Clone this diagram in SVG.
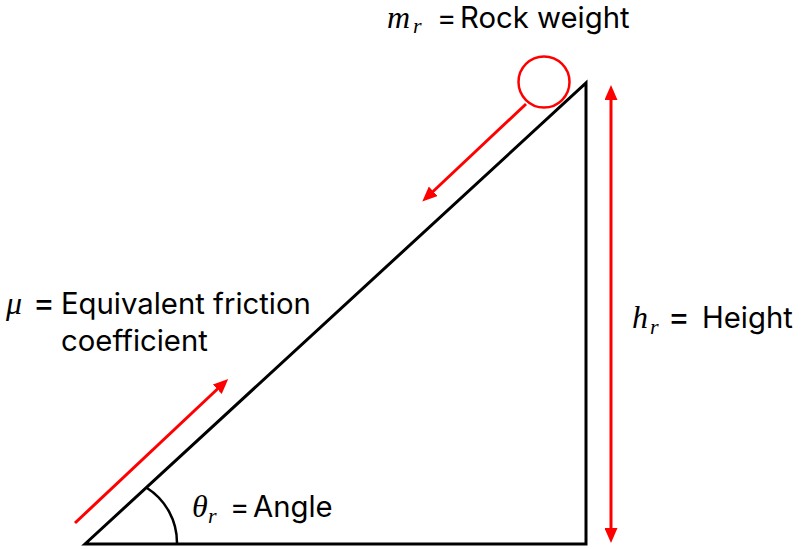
<svg xmlns="http://www.w3.org/2000/svg" width="802" height="549" viewBox="0 0 802 549">
  <style>
    .lbl { font-family: Inter, Roboto, "Liberation Sans", sans-serif; font-size: 29.3px; fill: #000; }
    .math { font-family: "Liberation Serif", "DejaVu Serif", serif; font-style: italic; font-size: 32px; }
    .sub { font-family: "Liberation Serif", "DejaVu Serif", serif; font-style: italic; font-size: 22px; }
    .eq { font-size: 33px; }
    .red { stroke: #FF0000; stroke-width: 3; fill: none; }
  </style>
  <defs>
    <marker id="ah" markerUnits="userSpaceOnUse" markerWidth="16" markerHeight="13" refX="1" refY="6.5" orient="auto-start-reverse">
      <path d="M0,0 L15,6.5 L0,13 z" fill="#FF0000"/>
    </marker>
  </defs>
  <rect width="802" height="549" fill="#fff"/>

  <g id="slope">
    <polygon points="85,544 586,83 586,544" fill="none" stroke="#000" stroke-width="3" stroke-linejoin="miter"/>
    <path d="M147,488 A65,65 0 0 1 177,543" fill="none" stroke="#000" stroke-width="2.5"/>
  </g>

  <g id="rock">
    <circle cx="544" cy="82" r="25.5" fill="#fff" stroke="#FF0000" stroke-width="2.5"/>
  </g>

  <g id="connectors">
    <line class="red" x1="526" y1="104" x2="432.5" y2="192" marker-end="url(#ah)"/>
    <line class="red" x1="75" y1="523" x2="218" y2="388.5" marker-end="url(#ah)"/>
    <line class="red" x1="611" y1="99" x2="611" y2="529" marker-start="url(#ah)" marker-end="url(#ah)"/>
  </g>

  <g id="label-rock">
    <text class="lbl" y="28"><tspan class="math" x="387">m</tspan><tspan class="sub" x="413" y="33">r</tspan><tspan x="437" y="28">=</tspan><tspan x="460" y="28">Rock weight</tspan></text>
  </g>

  <g id="label-friction">
    <text class="lbl" y="314"><tspan class="math" x="6">μ</tspan><tspan class="eq" x="33">=</tspan><tspan x="61">Equivalent friction</tspan></text>
    <text class="lbl" x="61" y="351">coefficient</text>
  </g>

  <g id="label-angle">
    <text class="lbl" y="517"><tspan class="math" x="192">θ</tspan><tspan class="sub" x="208" y="523">r</tspan><tspan x="230" y="517">=</tspan><tspan x="253" y="517">Angle</tspan></text>
  </g>

  <g id="label-height">
    <text class="lbl" y="328"><tspan class="math" x="632">h</tspan><tspan class="sub" x="650" y="334">r</tspan><tspan class="eq" x="668" y="328">=</tspan><tspan x="702" y="328">Height</tspan></text>
  </g>
</svg>
